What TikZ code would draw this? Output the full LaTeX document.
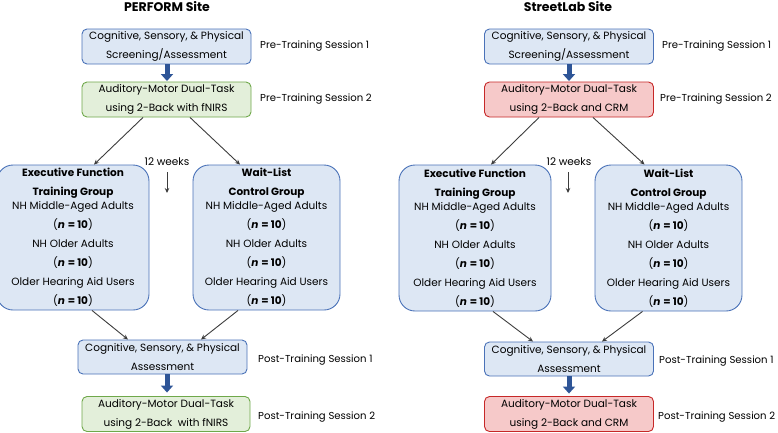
\documentclass[tikz,border=0pt]{standalone}
\usepackage{fontspec}
\setmainfont{Poppins}
\usetikzlibrary{arrows.meta,calc}
\definecolor{bfill}{HTML}{DDE7F4}
\definecolor{bdraw}{HTML}{4A72B8}
\definecolor{gfill}{HTML}{E3EFDA}
\definecolor{gdraw}{HTML}{6FA84A}
\definecolor{rfill}{HTML}{F6C9C9}
\definecolor{rdraw}{HTML}{C62828}
\definecolor{tarrow}{HTML}{2E5597}
\definecolor{lgray}{HTML}{3C3C3C}
\tikzset{
  txt/.style={font=\fontsize{10.5}{19}\selectfont},
  boxb/.style={txt, draw=bdraw, fill=bfill, line width=0.9pt, rounded corners=5pt, align=center, inner sep=0pt},
  boxg/.style={boxb, draw=gdraw, fill=gfill},
  boxr/.style={boxb, draw=rdraw, fill=rfill},
  grp/.style={boxb, rounded corners=16pt},
  lab/.style={font=\fontsize{10.1}{12}\selectfont, anchor=west, inner sep=0pt},
  ttl/.style={font=\fontsize{12.5}{15}\selectfont\bfseries, inner sep=0pt},
  thick arrow/.style={draw=tarrow, line width=5pt, -{Triangle[length=7pt,width=12pt]}, shorten >=0.5pt},
  thin arrow/.style={draw=lgray, line width=0.9pt, -{Stealth[length=5pt,width=4.5pt]}},
}
\newcommand{\nten}{(\textbf{\textit{n}} \textbf{= 10})}
\begin{document}
\begin{tikzpicture}[x=1pt,y=-1pt]
\useasboundingbox (0,0) rectangle (778,432);
\clip (0,0) rectangle (778,432);
% ---------------- left panel ----------------
\node[ttl] (t1) at (167,7) {PERFORM Site};
\node[boxb, minimum width=169pt, minimum height=35pt] (a1) at (166.5,46.5) {Cognitive, Sensory, \& Physical\\Screening/Assessment};
\node[boxg, minimum width=169pt, minimum height=35pt] (a2) at (166.5,99.5) {Auditory-Motor Dual-Task\\using 2-Back with fNIRS};
\node[lab] (la1) at (260,46) {Pre-Training Session 1};
\node[lab] (la2) at (260,99) {Pre-Training Session 2};
\node[grp, minimum width=152pt, minimum height=145pt] (ae) at (73,237.5) {\textbf{Executive Function}\\\textbf{Training Group}\\[-5pt]NH Middle-Aged Adults\\\nten\\NH Older Adults\\\nten\\Older Hearing Aid Users\\\nten};
\node[grp, minimum width=147pt, minimum height=145pt] (aw) at (266.5,237.5) {\textbf{Wait-List}\\\textbf{Control Group}\\[-5pt]NH Middle-Aged Adults\\\nten\\NH Older Adults\\\nten\\Older Hearing Aid Users\\\nten};
\node[txt, inner sep=0pt] (aw12) at (167,162) {12 weeks};
\coordinate (ak1) at (167,172);
\coordinate (ak2) at (167,193);
\draw[thin arrow] (ak1) -- (ak2);
\node[boxb, minimum width=169pt, minimum height=34pt] (a3) at (162.5,357) {Cognitive, Sensory, \& Physical\\Assessment};
\node[boxg, minimum width=168pt, minimum height=35pt] (a4) at (166,414) {Auditory-Motor Dual-Task\\using 2-Back~ with fNIRS};
\node[lab] (la3) at (258,360) {Post-Training Session 1};
\node[lab] (la4) at (258,417) {Post-Training Session 2};
\draw[thick arrow] (a1.south -| 167,0) -- (a2.north -| 167,0);
\draw[thick arrow] (a3.south -| 167,0) -- ($(a4.north -| 167,0)+(0,-3)$);
\draw[thin arrow] ($(a2.south)+(-23.5,0)$) -- ($(ae.north)+(21,0)$);
\draw[thin arrow] ($(a2.south)+(23.5,0)$) -- ($(aw.north)+(-26.5,0)$);
\draw[thin arrow] ($(ae.south)+(19,0)$) -- ($(a3.north)+(-34.5,0)$);
\draw[thin arrow] ($(aw.south)+(-28.5,0)$) -- ($(a3.north)+(38.5,0)$);
% ---------------- right panel ----------------
\begin{scope}[xshift=402pt]
\node[ttl] (t2) at (166,7) {StreetLab Site};
\node[boxb, minimum width=169pt, minimum height=35pt] (b1) at (167,46.5) {Cognitive, Sensory, \& Physical\\Screening/Assessment};
\node[boxr, minimum width=169pt, minimum height=35pt] (b2) at (167,99.5) {Auditory-Motor Dual-Task\\using 2-Back and CRM};
\node[lab] (lb1) at (260,46) {Pre-Training Session 1};
\node[lab] (lb2) at (258,99) {Pre-Training Session 2};
\node[grp, minimum width=152pt, minimum height=146pt] (be) at (73,238) {\textbf{Executive Function}\\\textbf{Training Group}\\[-5pt]NH Middle-Aged Adults\\\nten\\NH Older Adults\\\nten\\Older Hearing Aid Users\\\nten};
\node[grp, minimum width=147pt, minimum height=146pt] (bw) at (266.5,238) {\textbf{Wait-List}\\\textbf{Control Group}\\[-5pt]NH Middle-Aged Adults\\\nten\\NH Older Adults\\\nten\\Older Hearing Aid Users\\\nten};
\node[txt, inner sep=0pt] (bw12) at (167,162) {12 weeks};
\coordinate (bk1) at (166,172);
\coordinate (bk2) at (166,193);
\draw[thin arrow] (bk1) -- (bk2);
\node[boxb, minimum width=169pt, minimum height=34pt] (b3) at (167,359) {Cognitive, Sensory, \& Physical\\Assessment};
\node[boxr, minimum width=169pt, minimum height=35pt] (b4) at (167,414) {Auditory-Motor Dual-Task\\using 2-Back and CRM};
\node[lab] (lb3) at (257,361) {Post-Training Session 1};
\node[lab] (lb4) at (256,417) {Post-Training Session 2};
\draw[thick arrow] (b1) -- (b2);
\draw[thick arrow] (b3.south) -- ($(b4.north)+(0,-2)$);
\draw[thin arrow] ($(b2.south)+(-30,0)$) -- ($(be.north)+(16,0)$);
\draw[thin arrow] ($(b2.south)+(24,0)$) -- ($(bw.north)+(-24,0)$);
\draw[thin arrow] ($(be.south)+(18,0)$) -- ($(b3.north)+(-36,0)$);
\draw[thin arrow] ($(bw.south)+(-26,0)$) -- ($(b3.north)+(33,0)$);
\end{scope}
\end{tikzpicture}
\end{document}
